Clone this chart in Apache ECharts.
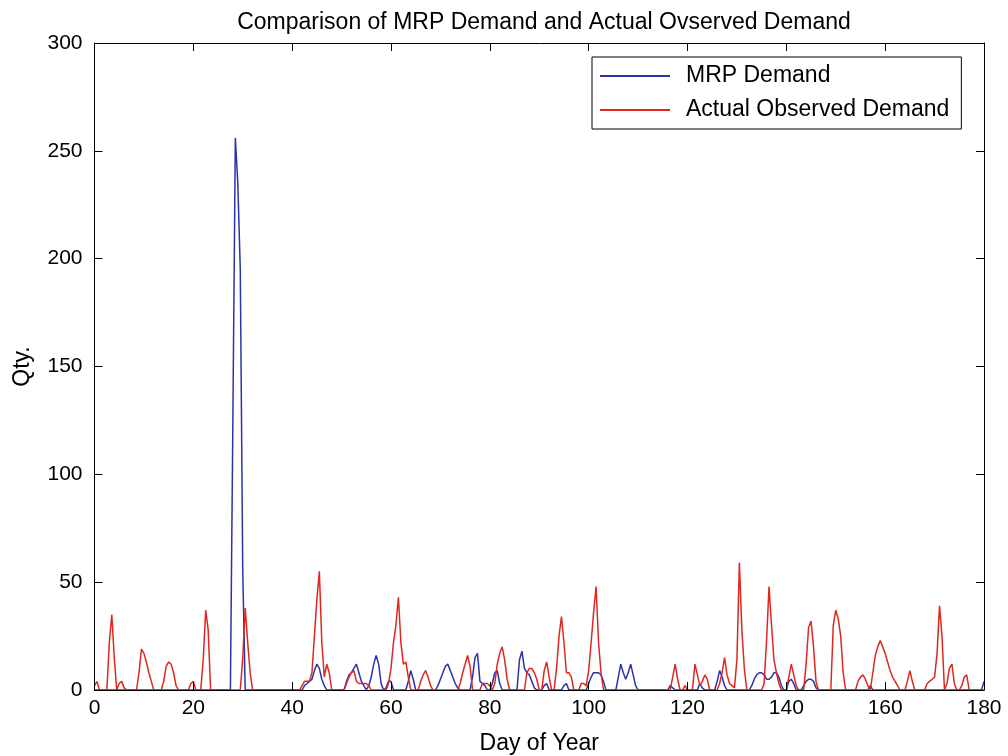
<!DOCTYPE html>
<html>
<head>
<meta charset="utf-8">
<script src="https://cdn.jsdelivr.net/npm/echarts@6/dist/echarts.min.js"></script>
<style>
html,body{margin:0;padding:0;background:#fff;}
#chart{width:1008px;height:756px;}
</style>
</head>
<body>
<div id="chart"></div>
<script>
// sampling step of the series (days)
const dayStep = 0.5;
const xTicks = [0, 20, 40, 60, 80, 100, 120, 140, 160, 180];
const yTicks = [0, 50, 100, 150, 200, 250, 300];

// MRP Demand, one value every half day from day 0 to day 180
const mrpDemand = [
  0,0,0,0,0,0,0,0,0,0, 0,0,0,0,0,0,0,0,0,0,          // 0 - 9.5
  0,0,0,0,0,0,0,0,0,0, 0,0,0,0,0,0,0,0,0,0,          // 10 - 19.5
  0,0,0,0,0,0,0,0,0,0, 0,0,0,0,0,0,125,256,235,195,  // 20 - 29.5
  55,0,0,0,0,0,0,0,0,0, 0,0,0,0,0,0,0,0,0,0,         // 30 - 39.5
  0,0,0,0,0,2,3,4,5,9, 12,10,5,2,0,0,0,0,0,0,        // 40 - 49.5
  0,0,4,7,8,10,12,8,4,2, 0,2,6,12,16,12,3,0,1,4,     // 50 - 59.5
  4,0,0,0,0,0,0,4,9,5, 0,0,0,0,0,0,0,0,0,2,          // 60 - 69.5
  5,8,11,12,9,6,3,1,0,0, 0,0,0,6,15,17,4,3,2,0,      // 70 - 79.5
  0,3,8,9,3,0,0,0,0,0, 0,0,14,18,10,8,7,4,1,0,       // 80 - 89.5
  0,0,2,3,0,0,0,0,0,0, 2,3,0,0,0,0,0,0,0,0,          // 90 - 99.5
  3,6,8,8,8,7,4,0,0,0, 0,0,6,12,8,5,8,12,7,2,        // 100 - 109.5
  0,0,0,0,0,0,0,0,0,0, 0,0,0,2,1,0,0,0,0,0,          // 110 - 119.5
  0,0,0,0,0,3,1,0,0,0, 0,0,4,9,6,2,0,0,0,0,          // 120 - 129.5
  0,0,0,0,0,0,2,5,7,8, 8,7,5,5,6,8,8,6,2,0,          // 130 - 139.5
  0,4,5,3,0,0,0,2,4,5, 5,4,1,0,0,0,0,0,0,0,          // 140 - 149.5
  0,0,0,0,0,0,0,0,0,0, 0,0,0,0,2,0,0,0,0,0,          // 150 - 159.5
  0,0,0,0,0,0,0,0,0,0, 0,0,0,0,0,0,0,0,0,0,          // 160 - 169.5
  0,0,0,0,0,0,0,0,0,0, 0,0,0,0,0,0,0,0,0,0,          // 170 - 179.5
  4                                                  // 180
];

// Actual Observed Demand, one value every half day from day 0 to day 180
const actualDemand = [
  2,4,0,0,0,0,22,35,15,0, 3,4,1,0,0,0,0,0,8,19,      // 0 - 9.5
  17,13,8,4,0,0,0,0,4,11, 13,12,8,2,0,0,0,0,0,3,     // 10 - 19.5
  4,0,0,0,14,37,28,0,0,0, 0,0,0,0,0,0,0,0,0,0,       // 20 - 29.5
  15,38,22,8,0,0,0,0,0,0, 0,0,0,0,0,0,0,0,0,0,       // 30 - 39.5
  0,0,0,0,2,4,4,4,8,25, 42,55,22,6,12,8,0,0,0,0,     // 40 - 49.5
  0,0,3,6,8,9,4,3,3,3, 3,2,0,0,0,0,0,0,0,3,          // 50 - 59.5
  10,22,30,43,22,12,13,6,0,0, 0,0,4,7,9,6,2,0,0,0,   // 60 - 69.5
  0,0,0,0,0,0,0,0,3,8, 12,16,11,0,0,0,0,3,3,3,       // 70 - 79.5
  2,0,3,12,17,20,14,5,0,0, 0,0,0,0,0,8,10,10,8,5,    // 80 - 89.5
  0,0,9,13,6,0,0,10,25,34, 22,8,8,6,0,0,0,3,3,2,     // 90 - 99.5
  9,22,36,48,22,8,0,0,0,0, 0,0,0,0,0,0,0,0,0,0,      // 100 - 109.5
  0,0,0,0,0,0,0,0,0,0, 0,0,0,0,6,12,5,0,0,2,         // 110 - 119.5
  0,0,0,12,7,2,4,7,5,0, 0,0,0,3,8,15,7,3,2,1,        // 120 - 129.5
  14,59,28,10,0,0,0,0,0,0, 0,3,23,48,30,14,8,3,0,0,  // 130 - 139.5
  0,6,12,7,2,0,0,0,12,29, 32,20,4,0,0,0,0,0,0,30,    // 140 - 149.5
  37,33,25,8,0,0,0,0,0,4, 6,7,5,2,0,8,16,20,23,20,   // 150 - 159.5
  17,13,9,6,4,2,0,0,0,4, 9,4,0,0,0,0,0,3,4,5,        // 160 - 169.5
  6,17,39,25,0,3,10,12,3,0, 0,2,6,7,0,0,0,0,0,0,     // 170 - 179.5
  0                                                  // 180
];

function toPoints(values) {
  return values.map(function (v, i) { return [i * dayStep, v]; });
}

const chart = echarts.init(document.getElementById('chart'), null, { renderer: 'canvas' });
const font = 'Liberation Sans, Arial, Helvetica, sans-serif';
const tickCommon = { show: true, inside: true, length: 8, lineStyle: { color: '#000', width: 1 } };
const lineCommon = { show: true, onZero: false, lineStyle: { color: '#000', width: 1 } };
const blue = '#2b33a8';
const red = '#e0271f';

chart.setOption({
  animation: false,
  backgroundColor: '#fff',
  title: {
    text: 'Comparison of MRP Demand and Actual Ovserved Demand',
    left: 539, top: 6, textAlign: 'center',
    textStyle: { fontFamily: font, fontSize: 23, fontWeight: 'normal', color: '#000' }
  },
  legend: {
    orient: 'vertical',
    left: 592, top: 57,
    padding: [6, 12, 6, 8],
    itemGap: 8,
    itemWidth: 70, itemHeight: 2,
    icon: 'rect',
    backgroundColor: '#fff',
    borderColor: '#000', borderWidth: 1, borderRadius: 0,
    textStyle: { fontFamily: font, fontSize: 23, color: '#000', lineHeight: 26, padding: [0, 0, 0, 11] },
    data: ['MRP Demand', 'Actual Observed Demand']
  },
  grid: { left: 94.5, right: 24, top: 43, bottom: 66, containLabel: false, outerBoundsMode: 'none' },
  xAxis: [
    {
      type: 'value', position: 'bottom', min: xTicks[0], max: xTicks[xTicks.length - 1], interval: 20,
      name: 'Day of Year', nameLocation: 'middle', nameGap: 42,
      nameTextStyle: { fontFamily: font, fontSize: 23, color: '#000' },
      axisLine: lineCommon, axisTick: tickCommon, splitLine: { show: false },
      axisLabel: { fontFamily: font, fontSize: 21, color: '#000', margin: 8 },
      z: 5
    },
    {
      type: 'value', position: 'top', min: xTicks[0], max: xTicks[xTicks.length - 1], interval: 20,
      axisLine: lineCommon, axisTick: tickCommon, splitLine: { show: false },
      axisLabel: { show: false }, z: 5
    }
  ],
  yAxis: [
    {
      type: 'value', position: 'left', min: yTicks[0], max: yTicks[yTicks.length - 1], interval: 50,
      name: 'Qty.', nameLocation: 'middle', nameGap: 60, nameRotate: 90,
      nameTextStyle: { fontFamily: font, fontSize: 23, color: '#000' },
      axisLine: lineCommon, axisTick: tickCommon, splitLine: { show: false },
      axisLabel: { fontFamily: font, fontSize: 21, color: '#000', margin: 12 },
      z: 5
    },
    {
      type: 'value', position: 'right', min: yTicks[0], max: yTicks[yTicks.length - 1], interval: 50,
      axisLine: lineCommon, axisTick: tickCommon, splitLine: { show: false },
      axisLabel: { show: false }, z: 5
    }
  ],
  series: [
    {
      name: 'MRP Demand', type: 'line', xAxisIndex: 0, yAxisIndex: 0,
      data: toPoints(mrpDemand), showSymbol: false, symbol: 'none',
      lineStyle: { color: blue, width: 1.5 }, itemStyle: { color: blue }, z: 2
    },
    {
      name: 'Actual Observed Demand', type: 'line', xAxisIndex: 0, yAxisIndex: 0,
      data: toPoints(actualDemand), showSymbol: false, symbol: 'none',
      lineStyle: { color: red, width: 1.5 }, itemStyle: { color: red }, z: 3
    }
  ]
});
</script>
</body>
</html>
